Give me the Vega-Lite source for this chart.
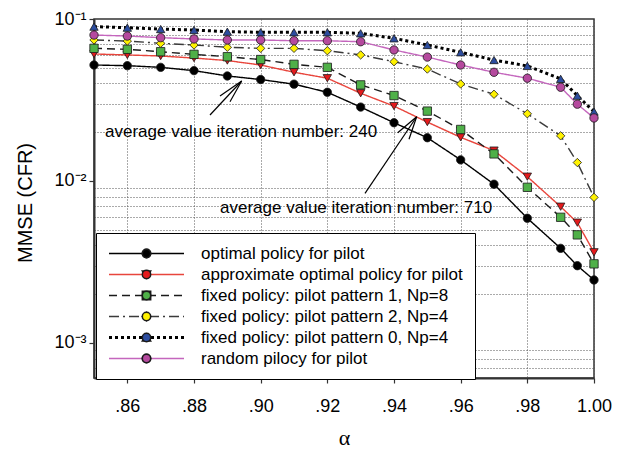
{
  "$schema": "https://vega.github.io/schema/vega-lite/v6.json",
  "width": 500,
  "height": 359,
  "autosize": {"type": "none"},
  "padding": {"left": 94, "top": 19, "right": 27, "bottom": 73},
  "background": "white",
  "config": {
    "font": "Liberation Sans",
    "view": {"stroke": "#333333", "strokeWidth": 1.5},
    "axis": {"labelColor": "#000000", "titleColor": "#000000", "titleFontWeight": "normal", "labelFont": "Liberation Sans"},
    "legend": {"labelFont": "Liberation Sans", "labelColor": "#000000"}
  },
  "datasets": {
    "mmse": [
      {"alpha": 0.85, "mmse": 0.0520, "series": "optimal policy for pilot"},
      {"alpha": 0.86, "mmse": 0.0515, "series": "optimal policy for pilot"},
      {"alpha": 0.87, "mmse": 0.0503, "series": "optimal policy for pilot"},
      {"alpha": 0.88, "mmse": 0.0480, "series": "optimal policy for pilot"},
      {"alpha": 0.89, "mmse": 0.0445, "series": "optimal policy for pilot"},
      {"alpha": 0.90, "mmse": 0.0423, "series": "optimal policy for pilot"},
      {"alpha": 0.91, "mmse": 0.0396, "series": "optimal policy for pilot"},
      {"alpha": 0.92, "mmse": 0.0353, "series": "optimal policy for pilot"},
      {"alpha": 0.93, "mmse": 0.0286, "series": "optimal policy for pilot"},
      {"alpha": 0.94, "mmse": 0.0229, "series": "optimal policy for pilot"},
      {"alpha": 0.95, "mmse": 0.0185, "series": "optimal policy for pilot"},
      {"alpha": 0.96, "mmse": 0.0135, "series": "optimal policy for pilot"},
      {"alpha": 0.97, "mmse": 0.00955, "series": "optimal policy for pilot"},
      {"alpha": 0.98, "mmse": 0.00589, "series": "optimal policy for pilot"},
      {"alpha": 0.99, "mmse": 0.00384, "series": "optimal policy for pilot"},
      {"alpha": 0.995, "mmse": 0.0030, "series": "optimal policy for pilot"},
      {"alpha": 1.0, "mmse": 0.00245, "series": "optimal policy for pilot"},

      {"alpha": 0.85, "mmse": 0.0608, "series": "approximate optimal policy for pilot"},
      {"alpha": 0.86, "mmse": 0.0600, "series": "approximate optimal policy for pilot"},
      {"alpha": 0.87, "mmse": 0.0591, "series": "approximate optimal policy for pilot"},
      {"alpha": 0.88, "mmse": 0.0574, "series": "approximate optimal policy for pilot"},
      {"alpha": 0.89, "mmse": 0.0554, "series": "approximate optimal policy for pilot"},
      {"alpha": 0.90, "mmse": 0.0520, "series": "approximate optimal policy for pilot"},
      {"alpha": 0.91, "mmse": 0.0469, "series": "approximate optimal policy for pilot"},
      {"alpha": 0.92, "mmse": 0.0431, "series": "approximate optimal policy for pilot"},
      {"alpha": 0.93, "mmse": 0.0348, "series": "approximate optimal policy for pilot"},
      {"alpha": 0.94, "mmse": 0.0290, "series": "approximate optimal policy for pilot"},
      {"alpha": 0.95, "mmse": 0.0231, "series": "approximate optimal policy for pilot"},
      {"alpha": 0.96, "mmse": 0.0186, "series": "approximate optimal policy for pilot"},
      {"alpha": 0.97, "mmse": 0.0154, "series": "approximate optimal policy for pilot"},
      {"alpha": 0.98, "mmse": 0.01063, "series": "approximate optimal policy for pilot"},
      {"alpha": 0.99, "mmse": 0.00694, "series": "approximate optimal policy for pilot"},
      {"alpha": 0.995, "mmse": 0.00553, "series": "approximate optimal policy for pilot"},
      {"alpha": 1.0, "mmse": 0.00363, "series": "approximate optimal policy for pilot"},

      {"alpha": 0.85, "mmse": 0.0659, "series": "fixed policy: pilot pattern 1, Np=8"},
      {"alpha": 0.86, "mmse": 0.0650, "series": "fixed policy: pilot pattern 1, Np=8"},
      {"alpha": 0.87, "mmse": 0.0628, "series": "fixed policy: pilot pattern 1, Np=8"},
      {"alpha": 0.88, "mmse": 0.0605, "series": "fixed policy: pilot pattern 1, Np=8"},
      {"alpha": 0.89, "mmse": 0.0585, "series": "fixed policy: pilot pattern 1, Np=8"},
      {"alpha": 0.90, "mmse": 0.0562, "series": "fixed policy: pilot pattern 1, Np=8"},
      {"alpha": 0.91, "mmse": 0.0525, "series": "fixed policy: pilot pattern 1, Np=8"},
      {"alpha": 0.92, "mmse": 0.0503, "series": "fixed policy: pilot pattern 1, Np=8"},
      {"alpha": 0.93, "mmse": 0.0392, "series": "fixed policy: pilot pattern 1, Np=8"},
      {"alpha": 0.94, "mmse": 0.0337, "series": "fixed policy: pilot pattern 1, Np=8"},
      {"alpha": 0.95, "mmse": 0.0270, "series": "fixed policy: pilot pattern 1, Np=8"},
      {"alpha": 0.96, "mmse": 0.0208, "series": "fixed policy: pilot pattern 1, Np=8"},
      {"alpha": 0.97, "mmse": 0.0147, "series": "fixed policy: pilot pattern 1, Np=8"},
      {"alpha": 0.98, "mmse": 0.00914, "series": "fixed policy: pilot pattern 1, Np=8"},
      {"alpha": 0.99, "mmse": 0.00597, "series": "fixed policy: pilot pattern 1, Np=8"},
      {"alpha": 0.995, "mmse": 0.00465, "series": "fixed policy: pilot pattern 1, Np=8"},
      {"alpha": 1.0, "mmse": 0.00308, "series": "fixed policy: pilot pattern 1, Np=8"},

      {"alpha": 0.85, "mmse": 0.0742, "series": "fixed policy: pilot pattern 2, Np=4"},
      {"alpha": 0.86, "mmse": 0.0731, "series": "fixed policy: pilot pattern 2, Np=4"},
      {"alpha": 0.87, "mmse": 0.0708, "series": "fixed policy: pilot pattern 2, Np=4"},
      {"alpha": 0.88, "mmse": 0.0691, "series": "fixed policy: pilot pattern 2, Np=4"},
      {"alpha": 0.89, "mmse": 0.0669, "series": "fixed policy: pilot pattern 2, Np=4"},
      {"alpha": 0.90, "mmse": 0.0659, "series": "fixed policy: pilot pattern 2, Np=4"},
      {"alpha": 0.91, "mmse": 0.0659, "series": "fixed policy: pilot pattern 2, Np=4"},
      {"alpha": 0.92, "mmse": 0.0637, "series": "fixed policy: pilot pattern 2, Np=4"},
      {"alpha": 0.93, "mmse": 0.0600, "series": "fixed policy: pilot pattern 2, Np=4"},
      {"alpha": 0.94, "mmse": 0.0545, "series": "fixed policy: pilot pattern 2, Np=4"},
      {"alpha": 0.95, "mmse": 0.0491, "series": "fixed policy: pilot pattern 2, Np=4"},
      {"alpha": 0.96, "mmse": 0.0397, "series": "fixed policy: pilot pattern 2, Np=4"},
      {"alpha": 0.97, "mmse": 0.0343, "series": "fixed policy: pilot pattern 2, Np=4"},
      {"alpha": 0.98, "mmse": 0.0260, "series": "fixed policy: pilot pattern 2, Np=4"},
      {"alpha": 0.99, "mmse": 0.0190, "series": "fixed policy: pilot pattern 2, Np=4"},
      {"alpha": 0.995, "mmse": 0.0130, "series": "fixed policy: pilot pattern 2, Np=4"},
      {"alpha": 1.0, "mmse": 0.00792, "series": "fixed policy: pilot pattern 2, Np=4"},

      {"alpha": 0.85, "mmse": 0.0897, "series": "fixed policy: pilot pattern 0, Np=4"},
      {"alpha": 0.86, "mmse": 0.0884, "series": "fixed policy: pilot pattern 0, Np=4"},
      {"alpha": 0.87, "mmse": 0.0867, "series": "fixed policy: pilot pattern 0, Np=4"},
      {"alpha": 0.88, "mmse": 0.0855, "series": "fixed policy: pilot pattern 0, Np=4"},
      {"alpha": 0.89, "mmse": 0.0835, "series": "fixed policy: pilot pattern 0, Np=4"},
      {"alpha": 0.90, "mmse": 0.0828, "series": "fixed policy: pilot pattern 0, Np=4"},
      {"alpha": 0.91, "mmse": 0.0828, "series": "fixed policy: pilot pattern 0, Np=4"},
      {"alpha": 0.92, "mmse": 0.0828, "series": "fixed policy: pilot pattern 0, Np=4"},
      {"alpha": 0.93, "mmse": 0.0816, "series": "fixed policy: pilot pattern 0, Np=4"},
      {"alpha": 0.94, "mmse": 0.0760, "series": "fixed policy: pilot pattern 0, Np=4"},
      {"alpha": 0.95, "mmse": 0.0691, "series": "fixed policy: pilot pattern 0, Np=4"},
      {"alpha": 0.96, "mmse": 0.0623, "series": "fixed policy: pilot pattern 0, Np=4"},
      {"alpha": 0.97, "mmse": 0.0558, "series": "fixed policy: pilot pattern 0, Np=4"},
      {"alpha": 0.98, "mmse": 0.0513, "series": "fixed policy: pilot pattern 0, Np=4"},
      {"alpha": 0.99, "mmse": 0.0427, "series": "fixed policy: pilot pattern 0, Np=4"},
      {"alpha": 0.995, "mmse": 0.0336, "series": "fixed policy: pilot pattern 0, Np=4"},
      {"alpha": 1.0, "mmse": 0.0268, "series": "fixed policy: pilot pattern 0, Np=4"},

      {"alpha": 0.85, "mmse": 0.0796, "series": "random pilocy for pilot"},
      {"alpha": 0.86, "mmse": 0.0785, "series": "random pilocy for pilot"},
      {"alpha": 0.87, "mmse": 0.0767, "series": "random pilocy for pilot"},
      {"alpha": 0.88, "mmse": 0.0753, "series": "random pilocy for pilot"},
      {"alpha": 0.89, "mmse": 0.0742, "series": "random pilocy for pilot"},
      {"alpha": 0.90, "mmse": 0.0742, "series": "random pilocy for pilot"},
      {"alpha": 0.91, "mmse": 0.0734, "series": "random pilocy for pilot"},
      {"alpha": 0.92, "mmse": 0.0734, "series": "random pilocy for pilot"},
      {"alpha": 0.93, "mmse": 0.0724, "series": "random pilocy for pilot"},
      {"alpha": 0.94, "mmse": 0.0644, "series": "random pilocy for pilot"},
      {"alpha": 0.95, "mmse": 0.0582, "series": "random pilocy for pilot"},
      {"alpha": 0.96, "mmse": 0.0520, "series": "random pilocy for pilot"},
      {"alpha": 0.97, "mmse": 0.0469, "series": "random pilocy for pilot"},
      {"alpha": 0.98, "mmse": 0.0431, "series": "random pilocy for pilot"},
      {"alpha": 0.99, "mmse": 0.0379, "series": "random pilocy for pilot"},
      {"alpha": 0.995, "mmse": 0.0298, "series": "random pilocy for pilot"},
      {"alpha": 1.0, "mmse": 0.0245, "series": "random pilocy for pilot"}
    ],
    "notes": [
      {"alpha": 0.8533, "mmse": 0.0201, "note": "average value iteration number: 240"},
      {"alpha": 0.8878, "mmse": 0.00681, "note": "average value iteration number: 710"}
    ],
    "arrows": [
      {"alpha_from": 0.8848, "mmse_from": 0.02555, "alpha_to": 0.8943, "mmse_to": 0.04143},
      {"alpha_from": 0.8878, "mmse_from": 0.03347, "alpha_to": 0.8943, "mmse_to": 0.04143},
      {"alpha_from": 0.8908, "mmse_from": 0.03087, "alpha_to": 0.8943, "mmse_to": 0.04143},
      {"alpha_from": 0.9313, "mmse_from": 0.008396, "alpha_to": 0.9468, "mmse_to": 0.02493},
      {"alpha_from": 0.9411, "mmse_from": 0.01987, "alpha_to": 0.9468, "mmse_to": 0.02493},
      {"alpha_from": 0.9445, "mmse_from": 0.01809, "alpha_to": 0.9468, "mmse_to": 0.02493}
    ]
  },
  "layer": [
    {
      "data": {"name": "mmse"},
      "mark": {"type": "line", "interpolate": "linear"},
      "encoding": {
        "x": {
          "field": "alpha", "type": "quantitative",
          "scale": {"domain": [0.85, 1.0], "nice": false, "zero": false},
          "axis": {
            "title": "α",
            "titleFont": "Liberation Serif", "titleFontSize": 22,
            "titleX": 250, "titleY": 59, "titleBaseline": "middle",
            "values": [0.86, 0.88, 0.9, 0.92, 0.94, 0.96, 0.98, 1.0],
            "labelExpr": "replace(format(datum.value, '.2f'), '0.', '.')",
            "labelFontSize": 18, "labelFlush": false, "labelPadding": 14,
            "tickSize": 5, "tickColor": "#333333", "tickWidth": 1.2,
            "domainColor": "#333333", "domainWidth": 2,
            "grid": true, "gridColor": "#555555", "gridDash": [1, 2], "gridWidth": 1
          }
        },
        "y": {
          "field": "mmse", "type": "quantitative",
          "scale": {"type": "log", "domain": [0.000608, 0.1], "nice": false},
          "axis": {
            "title": "MMSE (CFR)",
            "titleFontSize": 20, "titleX": -69, "titleY": 183.5,
            "titleAlign": "center", "titleBaseline": "middle",
            "values": [0.0007, 0.0008, 0.0009, 0.001, 0.002, 0.003, 0.004, 0.005, 0.006, 0.007, 0.008, 0.009, 0.01, 0.02, 0.03, 0.04, 0.05, 0.06, 0.07, 0.08, 0.09, 0.1],
            "labelExpr": "datum.value == 0.1 ? '10⁻¹' : datum.value == 0.01 ? '10⁻²' : datum.value == 0.001 ? '10⁻³' : ''",
            "labelFontSize": 18, "labelFlush": false, "labelOverlap": false, "labelPadding": 3,
            "labelAlign": "right", "labelBaseline": "middle",
            "tickSize": 5, "tickColor": "#333333", "tickWidth": 1.2,
            "tickOpacity": {"condition": {"test": "datum.value == 0.1 || datum.value == 0.01 || datum.value == 0.001", "value": 1}, "value": 0},
            "domainColor": "#333333", "domainWidth": 2,
            "grid": true, "gridColor": "#555555", "gridDash": [1, 2], "gridWidth": 1,
            "gridOpacity": {"condition": {"test": "datum.value == 0.1 || datum.value == 0.01 || datum.value == 0.001", "value": 0}, "value": 1}
          }
        },
        "stroke": {
          "field": "series", "type": "nominal",
          "scale": {
            "domain": ["optimal policy for pilot", "approximate optimal policy for pilot", "fixed policy: pilot pattern 1, Np=8", "fixed policy: pilot pattern 2, Np=4", "fixed policy: pilot pattern 0, Np=4", "random pilocy for pilot"],
            "range": ["#000000", "#e8453c", "#1a1a1a", "#3a3a3a", "#000000", "#c466bd"]
          },
          "legend": {
            "orient": "none", "legendX": 2, "legendY": 214, "title": null,
            "padding": 12, "fillColor": "#ffffff", "strokeColor": "#000000",
            "symbolType": "stroke", "symbolSize": 5625, "symbolStrokeWidth": 1.5,
            "symbolOffset": 30,
            "labelFontSize": 17, "labelOffset": 46, "labelLimit": 400, "rowPadding": 3,
            "encode": {"symbols": {"update": {"strokeWidth": {"signal": "datum.value === 'fixed policy: pilot pattern 0, Np=4' ? 3 : 1.4"}}}}
          }
        },
        "strokeDash": {
          "field": "series", "type": "nominal",
          "scale": {
            "domain": ["optimal policy for pilot", "approximate optimal policy for pilot", "fixed policy: pilot pattern 1, Np=8", "fixed policy: pilot pattern 2, Np=4", "fixed policy: pilot pattern 0, Np=4", "random pilocy for pilot"],
            "range": [[1, 0], [1, 0], [8, 5], [10, 4, 2, 4], [3, 3], [1, 0]]
          },
          "legend": {
            "orient": "none", "legendX": 2, "legendY": 214, "title": null,
            "padding": 12, "fillColor": "#ffffff", "strokeColor": "#000000",
            "symbolType": "stroke", "symbolSize": 5625, "symbolStrokeWidth": 1.5,
            "symbolOffset": 30,
            "labelFontSize": 17, "labelOffset": 46, "labelLimit": 400, "rowPadding": 3,
            "encode": {"symbols": {"update": {"strokeWidth": {"signal": "datum.value === 'fixed policy: pilot pattern 0, Np=4' ? 3 : 1.4"}}}}
          }
        },
        "strokeWidth": {
          "condition": {"test": "datum.series === 'fixed policy: pilot pattern 0, Np=4'", "value": 3},
          "value": 1.4
        }
      }
    },
    {
      "data": {"name": "mmse"},
      "mark": {"type": "point", "filled": true, "opacity": 1, "size": 70, "stroke": "#1a1a1a", "strokeWidth": 0.8},
      "encoding": {
        "x": {"field": "alpha", "type": "quantitative"},
        "y": {"field": "mmse", "type": "quantitative"},
        "fill": {
          "field": "series", "type": "nominal",
          "sort": ["optimal policy for pilot", "approximate optimal policy for pilot", "fixed policy: pilot pattern 1, Np=8", "fixed policy: pilot pattern 2, Np=4", "fixed policy: pilot pattern 0, Np=4", "random pilocy for pilot"],
          "scale": {"range": ["#000000", "#e41a1c", "#4fb048", "#fff200", "#2c4da0", "#b5499e"]},
          "legend": {
            "orient": "none", "legendX": 32, "legendY": 214, "title": null,
            "padding": 12, "symbolSize": 70, "labelFontSize": 17, "labelExpr": "' '",
            "labelLimit": 400, "rowPadding": 3, "symbolOpacity": 1,
            "encode": {"symbols": {"update": {"stroke": {"value": "#1a1a1a"}, "strokeWidth": {"value": 0.8}}}}
          }
        },
        "shape": {
          "field": "series", "type": "nominal",
          "sort": ["optimal policy for pilot", "approximate optimal policy for pilot", "fixed policy: pilot pattern 1, Np=8", "fixed policy: pilot pattern 2, Np=4", "fixed policy: pilot pattern 0, Np=4", "random pilocy for pilot"],
          "scale": {"range": ["circle", "triangle-down", "square", "diamond", "triangle-up", "circle"]},
          "legend": {
            "orient": "none", "legendX": 32, "legendY": 214, "title": null,
            "padding": 12, "symbolSize": 70, "labelFontSize": 17, "labelExpr": "' '",
            "labelLimit": 400, "rowPadding": 3, "symbolOpacity": 1,
            "encode": {"symbols": {"update": {"stroke": {"value": "#1a1a1a"}, "strokeWidth": {"value": 0.8}}}}
          }
        }
      }
    },
    {
      "data": {"name": "arrows"},
      "mark": {"type": "rule", "color": "#000000", "strokeWidth": 1.2},
      "encoding": {
        "x": {"field": "alpha_from", "type": "quantitative"},
        "y": {"field": "mmse_from", "type": "quantitative"},
        "x2": {"field": "alpha_to"},
        "y2": {"field": "mmse_to"}
      }
    },
    {
      "data": {"name": "notes"},
      "mark": {"type": "text", "align": "left", "baseline": "middle", "fontSize": 17, "font": "Liberation Sans", "color": "#000000"},
      "encoding": {
        "x": {"field": "alpha", "type": "quantitative"},
        "y": {"field": "mmse", "type": "quantitative"},
        "text": {"field": "note"}
      }
    }
  ]
}
